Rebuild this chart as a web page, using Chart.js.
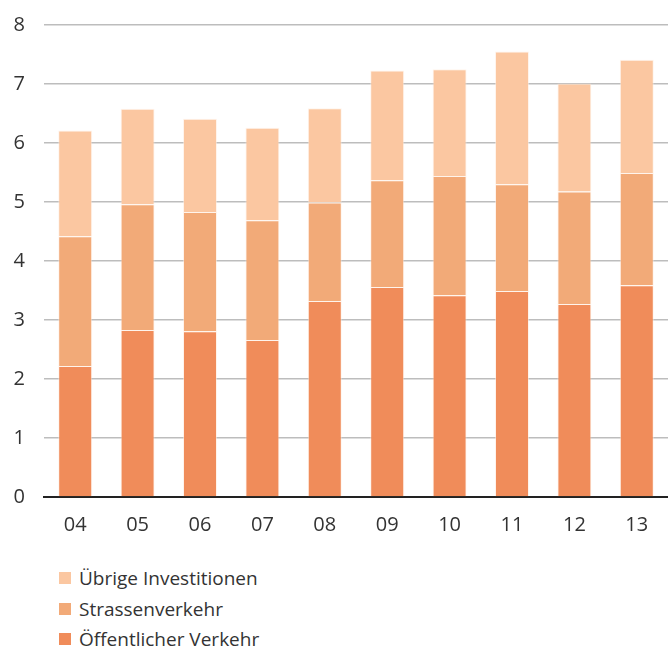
<!DOCTYPE html>
<html>
<head>
<meta charset="utf-8">
<script src="https://cdn.jsdelivr.net/npm/chart.js@4/dist/chart.umd.min.js"></script>
<style>
  html, body { margin: 0; padding: 0; background: #fff; overflow: hidden; }
  #wrap { position: relative; width: 668px; height: 648px; overflow: hidden; }
  #box { position: absolute; left: 0; top: -6px; width: 668px; height: 554px; }
  #legend { position: absolute; left: 59px; top: 563px; font-family: "Open Sans", "Noto Sans", sans-serif; font-size: 19px; color: #333; }
  #legend .row { height: 30.5px; display: flex; align-items: center; }
  #legend .sw { width: 12px; height: 12px; margin-right: 8px; }
</style>
</head>
<body>
<div id="wrap">
  <div id="box"><canvas id="c"></canvas></div>
  <div id="legend"></div>
</div>
<script>
// Jahre (Kurzform)
const categories = ['04', '05', '06', '07', '08', '09', '10', '11', '12', '13'];

// Investitionen nach Bereich
const oeffentlicherVerkehr = [2.22, 2.83, 2.81, 2.66, 3.32, 3.56, 3.42, 3.49, 3.27, 3.59];
const strassenverkehr      = [2.20, 2.13, 2.02, 2.03, 1.67, 1.81, 2.02, 1.81, 1.91, 1.90];
const uebrigeInvestitionen = [1.79, 1.62, 1.58, 1.57, 1.60, 1.86, 1.81, 2.25, 1.83, 1.92];

const yTicks = [0, 1, 2, 3, 4, 5, 6, 7, 8];

const seriesNames = ['Öffentlicher Verkehr', 'Strassenverkehr', 'Übrige Investitionen'];
const seriesColors = ['#F08C5A', '#F2AA78', '#FBC7A1'];
const seriesData = [oeffentlicherVerkehr, strassenverkehr, uebrigeInvestitionen];

const font = { family: '"Open Sans", "Noto Sans", sans-serif', size: 20 };

const chart = new Chart(document.getElementById('c'), {
  type: 'bar',
  data: {
    labels: categories,
    datasets: seriesData.map((d, i) => ({
      label: seriesNames[i],
      data: d,
      backgroundColor: seriesColors[i],
      borderColor: 'rgba(255,235,220,0.55)',
      borderWidth: 1,
      barPercentage: 0.545,
      categoryPercentage: 1
    }))
  },
  options: {
    responsive: true,
    maintainAspectRatio: false,
    animation: false,
    layout: { padding: { top: 19, right: 0, left: 0, bottom: 0 } },
    plugins: { legend: { display: false }, tooltip: { enabled: false } },
    scales: {
      x: {
        stacked: true,
        grid: { display: false, drawTicks: false },
        border: { display: true, color: '#222', width: 2 },
        ticks: { color: '#333', font: font, padding: 16 },
        afterFit: (s) => { s.height = 51; }
      },
      y: {
        stacked: true,
        min: 0,
        max: 8,
        afterBuildTicks: (s) => { s.ticks = yTicks.map(v => ({ value: v })); },
        grid: { color: '#bdbdbd', lineWidth: 1.5, drawTicks: false },
        border: { display: false },
        ticks: { color: '#333', font: font, padding: 19 },
        afterFit: (s) => { s.width = 44; }
      }
    }
  }
});

// Legende in umgekehrter Stapelreihenfolge
const legend = document.getElementById('legend');
chart.data.datasets.slice().reverse().forEach(ds => {
  const row = document.createElement('div');
  row.className = 'row';
  const sw = document.createElement('span');
  sw.className = 'sw';
  sw.style.background = ds.backgroundColor;
  const tx = document.createElement('span');
  tx.textContent = ds.label;
  row.appendChild(sw);
  row.appendChild(tx);
  legend.appendChild(row);
});
</script>
</body>
</html>
